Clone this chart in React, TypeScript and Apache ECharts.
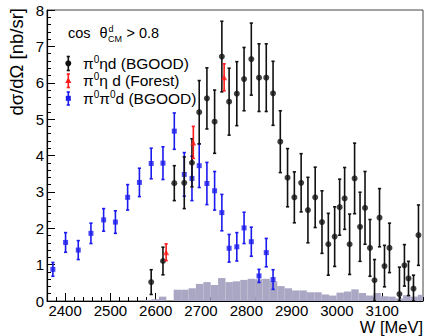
import React, { useEffect, useRef } from "react";
import * as echarts from "echarts";

// ---- data ----
const blueW = [2373, 2401, 2429, 2457, 2485, 2511, 2538, 2564, 2590, 2616, 2641, 2663, 2680, 2696, 2713, 2730, 2746, 2762, 2779, 2795, 2811, 2828, 2844, 2859];
const blueV = [0.87, 1.61, 1.40, 1.86, 2.23, 2.17, 2.85, 3.26, 3.78, 3.79, 4.67, 3.48, 3.37, 3.72, 3.23, 3.03, 2.43, 1.45, 1.49, 2.01, 1.63, 0.69, 1.33, 0.59];
const blueE = [0.19, 0.27, 0.26, 0.28, 0.31, 0.31, 0.35, 0.39, 0.42, 0.45, 0.5, 0.6, 0.61, 0.6, 0.58, 0.53, 0.5, 0.38, 0.39, 0.43, 0.4, 0.18, 0.39, 0.27];

const blackW = [2590, 2616, 2641, 2663, 2680, 2696, 2713, 2730, 2746, 2762, 2779, 2795, 2811, 2828, 2844, 2859, 2875, 2891, 2906, 2921, 2936, 2952, 2967, 2981, 2995, 3006, 3017, 3028, 3039, 3051, 3062, 3073, 3083, 3094, 3105, 3116, 3138, 3149, 3158, 3169, 3180];
const blackV = [0.52, 1.10, 3.24, 3.25, 3.80, 5.19, 5.57, 4.93, 6.72, 5.48, 5.70, 6.10, 6.65, 6.14, 6.14, 5.71, 4.38, 3.39, 2.85, 3.25, 2.50, 2.85, 2.17, 1.56, 1.77, 2.58, 2.82, 1.56, 3.37, 2.04, 2.56, 1.46, 0.57, 2.29, 0.96, 1.46, 0.19, 0.98, 0.62, 0.34, 1.81];
const blackE = [0.34, 0.38, 0.48, 0.71, 0.66, 0.87, 0.84, 0.87, 0.97, 0.92, 0.88, 0.87, 0.99, 0.93, 0.93, 0.88, 0.85, 0.8, 0.7, 0.8, 0.9, 0.83, 0.86, 0.85, 0.82, 0.77, 0.85, 0.83, 0.97, 0.95, 1.0, 0.78, 0.57, 0.8, 0.57, 0.68, 0.74, 0.57, 0.47, 0.37, 0.83];

const redW = [2623, 2683, 2751];
const redV = [1.34, 4.36, 6.15];
const redE = [0.23, 0.44, 0.37];

const histW = [2582.5, 2598.8, 2615.2, 2631.5, 2647.8, 2664.2, 2680.5, 2696.8, 2713.2, 2729.5, 2745.8, 2762.2, 2778.5, 2794.8, 2811.2, 2827.5, 2843.8, 2860.2, 2876.5, 2892.8, 2909.2, 2925.5, 2941.8, 2958.2, 2974.5, 2990.8, 3007.2, 3023.5, 3039.8, 3056.2, 3072.5, 3088.8, 3105.2, 3121.5, 3137.8, 3154.2, 3170.5, 3186.8];
const histV = [0.03, 0.05, 0.12, 0.0, 0.31, 0.31, 0.35, 0.47, 0.52, 0.44, 0.63, 0.52, 0.54, 0.58, 0.61, 0.60, 0.61, 0.54, 0.41, 0.35, 0.29, 0.29, 0.24, 0.24, 0.18, 0.15, 0.23, 0.26, 0.32, 0.22, 0.15, 0.22, 0.13, 0.12, 0.07, 0.16, 0.12, 0.17];
const histBinWidth = 16.33;

const xMajorTicks = [2400, 2500, 2600, 2700, 2800, 2900, 3000, 3100];

const FONT = '"Liberation Sans", Arial, Helvetica, sans-serif';
const BLACK = "#111111";
const BLUE = "#1a1aee";
const RED = "#ff1a1a";
const HIST = "#aaa7c4";

function zip(w: number[], v: number[], e?: number[]) {
  return w.map((x, i) => (e ? [x, v[i], e[i]] : [x, v[i]]));
}

function errorSeries(name: string, w: number[], v: number[], e: number[], color: string, z: number) {
  return {
    type: "custom",
    name,
    z,
    clip: true,
    data: zip(w, v, e),
    renderItem: (params: any, api: any) => {
      const x = api.value(0);
      const val = api.value(1);
      const err = api.value(2);
      const top = api.coord([x, val + err]);
      const bot = api.coord([x, Math.max(0, val - err)]);
      const ls = { stroke: color, lineWidth: 1.6 };
      return {
        type: "group",
        children: [
          { type: "line", shape: { x1: top[0], y1: top[1], x2: bot[0], y2: bot[1] }, style: ls },
          { type: "line", shape: { x1: top[0] - 1.6, y1: top[1], x2: top[0] + 1.6, y2: top[1] }, style: ls },
          { type: "line", shape: { x1: bot[0] - 1.6, y1: bot[1], x2: bot[0] + 1.6, y2: bot[1] }, style: ls },
        ],
      };
    },
  };
}

function legendBar(x: number, y1: number, y2: number, color: string) {
  const ls = { stroke: color, lineWidth: 1.6 };
  return [
    { type: "line", shape: { x1: x, y1, x2: x, y2 }, style: ls },
    { type: "line", shape: { x1: x - 1.6, y1, x2: x + 1.6, y2: y1 }, style: ls },
    { type: "line", shape: { x1: x - 1.6, y1: y2, x2: x + 1.6, y2 }, style: ls },
  ];
}

export default function App() {
  const ref = useRef<HTMLDivElement>(null);
  useEffect(() => {
    if (!ref.current) return;
    const chart = echarts.init(ref.current, null, { renderer: "svg" });
    const legendRich = {
      m: { fontSize: 15.5, lineHeight: 15, fontFamily: FONT, fill: "#000", verticalAlign: "middle" },
      s: { fontSize: 10, lineHeight: 8, fontFamily: FONT, fill: "#000", verticalAlign: "middle", padding: [0, 0, 8, 0] },
    };
    const option: any = {
      animation: false,
      backgroundColor: "#fff",
      grid: { left: 47, right: 2, top: 10, bottom: 35, show: true, borderColor: "#444", borderWidth: 1, backgroundColor: "transparent" },
      xAxis: [
        {
          type: "value",
          position: "bottom",
          min: 2360,
          max: 3190,
          axisLine: { show: true, onZero: false, lineStyle: { color: "#000", width: 1.2 } },
          axisTick: { show: true, inside: true, length: 8, customValues: xMajorTicks, lineStyle: { color: "#000", width: 1 } },
          axisLabel: { customValues: xMajorTicks, formatter: (v: number) => String(v), fontSize: 15, fontFamily: FONT, color: "#000", margin: 2 },
          splitLine: { show: false },
        },
        {
          type: "value",
          position: "bottom",
          min: 2360,
          max: 3190,
          interval: 20,
          axisLine: { show: false },
          axisTick: { show: true, inside: true, length: 4, lineStyle: { color: "#000", width: 1 } },
          axisLabel: { show: false },
          splitLine: { show: false },
        },
      ],
      yAxis: [
        {
          type: "value",
          position: "left",
          min: 0,
          max: 8,
          interval: 1,
          axisLine: { show: true, onZero: false, lineStyle: { color: "#000", width: 1.2 } },
          axisTick: { show: true, inside: true, length: 8, lineStyle: { color: "#000", width: 1 } },
          axisLabel: { fontSize: 15, fontFamily: FONT, color: "#000", margin: 3 },
          splitLine: { show: false },
        },
        {
          type: "value",
          position: "left",
          min: 0,
          max: 8,
          interval: 0.2,
          axisLine: { show: false },
          axisTick: { show: true, inside: true, length: 4, lineStyle: { color: "#000", width: 1 } },
          axisLabel: { show: false },
          splitLine: { show: false },
        },
      ],
      series: [
        {
          type: "custom",
          name: "hist",
          z: 1,
          clip: true,
          data: zip(histW, histV),
          renderItem: (params: any, api: any) => {
            const c = api.value(0);
            const v = api.value(1);
            const p0 = api.coord([c - histBinWidth / 2, v]);
            const p1 = api.coord([c + histBinWidth / 2, 0]);
            return {
              type: "rect",
              shape: { x: p0[0], y: p0[1], width: p1[0] - p0[0], height: p1[1] - p0[1] },
              style: { fill: HIST, stroke: null },
            };
          },
        },
        errorSeries("blueErr", blueW, blueV, blueE, BLUE, 2),
        { type: "scatter", name: "π0π0d (BGOOD)", z: 3, symbol: "rect", symbolSize: 5, itemStyle: { color: BLUE }, data: zip(blueW, blueV) },
        errorSeries("blackErr", blackW, blackV, blackE, BLACK, 4),
        { type: "scatter", name: "π0ηd (BGOOD)", z: 5, symbol: "circle", symbolSize: 6, itemStyle: { color: BLACK }, data: zip(blackW, blackV) },
        errorSeries("redErr", redW, redV, redE, RED, 6),
        { type: "scatter", name: "π0η d (Forest)", z: 7, symbol: "triangle", symbolSize: 6, itemStyle: { color: RED }, data: zip(redW, redV) },
      ],
      graphic: [
        // axis titles
        { type: "text", x: 423, y: 326.5, style: { text: "W [MeV]", fontSize: 16.5, fontFamily: FONT, fill: "#000", align: "right", verticalAlign: "middle" } },
        { type: "text", x: 16, y: 8, rotation: Math.PI / 2, style: { text: "dσ/dΩ [nb/sr]", fontSize: 18.5, fontFamily: FONT, fill: "#000", align: "right", verticalAlign: "middle" } },
        // condition text
        { type: "text", x: 68, y: 32.5, style: { text: "cos", fontSize: 14.5, fontFamily: FONT, fill: "#000", verticalAlign: "middle" } },
        { type: "text", x: 99.5, y: 32.5, style: { text: "θ", fontSize: 14.5, fontFamily: FONT, fill: "#000", verticalAlign: "middle" } },
        { type: "text", x: 108.5, y: 28.5, style: { text: "d", fontSize: 9, fontFamily: FONT, fill: "#000", verticalAlign: "middle" } },
        { type: "text", x: 108, y: 38.5, style: { text: "CM", fontSize: 9, fontFamily: FONT, fill: "#000", verticalAlign: "middle" } },
        { type: "text", x: 126.5, y: 32.5, style: { text: "> 0.8", fontSize: 14.5, fontFamily: FONT, fill: "#000", verticalAlign: "middle" } },
        // legend entries
        ...legendBar(68.3, 56.5, 70.5, BLACK),
        { type: "circle", shape: { cx: 68.3, cy: 63.3, r: 3 }, style: { fill: BLACK } },
        { type: "text", x: 83, y: 63.3, style: { text: "{m|π}{s|0}{m|ηd (BGOOD)}", rich: legendRich, verticalAlign: "middle" } },
        ...legendBar(68.3, 74, 87.5, RED),
        { type: "polygon", shape: { points: [[68.3, 77.5], [65.2, 83], [71.4, 83]] }, style: { fill: RED } },
        { type: "text", x: 83, y: 80.7, style: { text: "{m|π}{s|0}{m|η d (Forest)}", rich: legendRich, verticalAlign: "middle" } },
        ...legendBar(68.3, 92, 105, BLUE),
        { type: "rect", shape: { x: 65.8, y: 95.8, width: 5, height: 5 }, style: { fill: BLUE } },
        { type: "text", x: 83, y: 98.3, style: { text: "{m|π}{s|0}{m|π}{s|0}{m|d (BGOOD)}", rich: legendRich, verticalAlign: "middle" } },
      ],
    };
    chart.setOption(option);
    return () => chart.dispose();
  }, []);
  return <div ref={ref} style={{ position: "absolute", left: 0, top: 0, width: 425, height: 336 }} />;
}
